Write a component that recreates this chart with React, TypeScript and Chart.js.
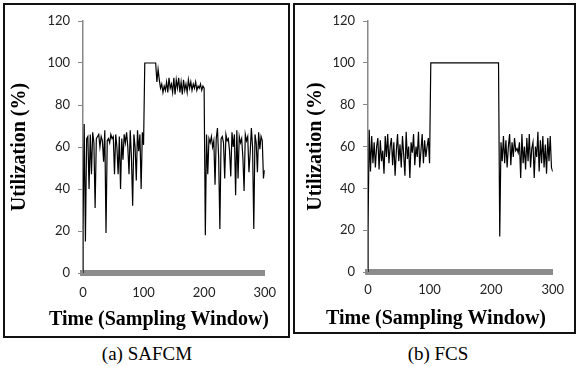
import React, { useEffect, useRef } from "react";
import { Chart, registerables } from "chart.js";

Chart.register(...registerables);

// Sampling window: one value every 2 time units, from 0 to 300
const SAMPLE_STEP = 2;
const X_MIN = 0;
const X_MAX = 300;
const X_STEP = 100;
const Y_MIN = 0;
const Y_MAX = 120;
const Y_STEP = 20;
const START_VALUE = 0; // both traces start from 0 at t = 0

const X_TITLE = "Time (Sampling Window)";
const Y_TITLE = "Utilization (%)";
const CAPTION_A = "(a) SAFCM";
const CAPTION_B = "(b) FCS";

// (a) SAFCM utilization (%), t = 0, 2, 4, ... 300
const safcmUtilization = [
  20, 71, 15, 64, 65, 40, 66, 47, 67, 62, 31, 64, 65, 66, 60, 65, 63, 53, 68, 19,
  63, 64, 62, 66, 64, 65, 47, 66, 60, 47, 65, 40, 64, 54, 66, 62, 67, 60, 47, 68,
  55, 32, 66, 60, 44, 68, 58, 66, 40, 67, 61,
  100, 100, 100, 100, 100, 100, 100, 100, 100, 100,
  91, 97, 92, 88, 90, 86, 89, 87, 91, 86, 93, 88, 90, 86, 93, 85, 92, 88, 93, 86,
  91, 85, 92, 87, 90, 86, 92, 88, 91, 87, 90, 88, 91, 87, 89, 88, 90, 87, 89, 88,
  18, 66, 47, 64, 62, 65, 60, 63, 42, 64, 69, 55, 21, 64, 65, 62, 45, 66, 63, 64,
  58, 46, 67, 60, 66, 37, 68, 45, 65, 62, 64, 55, 39, 66, 63, 65, 48, 57, 69, 60,
  21, 66, 62, 48, 67, 59, 65, 63, 45, 49,
];

// (b) FCS utilization (%), t = 0, 2, 4, ... 300
const fcsUtilization = [
  20, 68, 48, 65, 52, 62, 50, 60, 64, 49, 63, 53, 58, 47, 65, 55, 66, 52, 60, 64,
  51, 62, 46, 58, 66, 53, 61, 50, 65, 56, 46, 67, 54, 60, 45, 62, 57, 66, 51, 60,
  55, 67, 50, 58, 66, 52, 63, 55, 60, 64, 52,
  100, 100, 100, 100, 100, 100, 100, 100, 100, 100,
  100, 100, 100, 100, 100, 100, 100, 100, 100, 100,
  100, 100, 100, 100, 100, 100, 100, 100, 100, 100,
  100, 100, 100, 100, 100, 100, 100, 100, 100, 100,
  100, 100, 100, 100, 100, 100, 100, 100, 100, 100,
  100, 100, 100, 100, 100, 100,
  17, 62, 53, 65, 52, 63, 50, 60, 66, 51, 62, 55, 64, 58, 59, 57, 62, 45, 66, 52,
  60, 49, 64, 53, 66, 50, 59, 62, 45, 60, 55, 67, 48, 63, 52, 65, 50, 61, 47, 64,
  53, 65, 50, 48,
];

type Geom = {
  canvasW: number;
  canvasH: number;
  yAxisW: number;
  xAxisH: number;
  padTop: number;
  padRight: number;
  xTickPad: number;
  yTitlePad: number;
};

const GEOM_A: Geom = {
  canvasW: 283,
  canvasH: 331,
  yAxisW: 78,
  xAxisH: 63,
  padTop: 16,
  padRight: 21,
  xTickPad: 12,
  yTitlePad: 3,
};

const GEOM_B: Geom = {
  canvasW: 279,
  canvasH: 327,
  yAxisW: 73,
  xAxisH: 60,
  padTop: 16,
  padRight: 16,
  xTickPad: 10,
  yTitlePad: 9,
};

function toPoints(values: number[]) {
  return [
    { x: X_MIN, y: START_VALUE },
    ...values.map((v, i) => ({ x: X_MIN + i * SAMPLE_STEP, y: v })),
  ];
}

const TICK_FONT = { family: "Lato, 'Open Sans', sans-serif", size: 13 };
const SERIF = "'Liberation Serif', 'Times New Roman', serif";

function makeChart(canvas: HTMLCanvasElement, values: number[], g: Geom) {
  return new Chart(canvas, {
    type: "line",
    data: {
      datasets: [
        {
          data: toPoints(values),
          borderColor: "#000",
          borderWidth: 1.2,
          pointRadius: 0,
          tension: 0,
          fill: false,
        },
      ],
    },
    options: {
      animation: false,
      responsive: false,
      maintainAspectRatio: false,
      layout: { padding: { left: 0, right: g.padRight, top: g.padTop, bottom: 0 } },
      plugins: { legend: { display: false }, tooltip: { enabled: false } },
      scales: {
        x: {
          type: "linear",
          min: X_MIN,
          max: X_MAX,
          ticks: { stepSize: X_STEP, padding: g.xTickPad, font: TICK_FONT, color: "#222" },
          grid: { display: true, drawOnChartArea: false, drawTicks: false },
          border: { display: true, color: "#8c8c8c", width: 6 },
          afterFit: (s: any) => {
            s.height = g.xAxisH;
          },
        },
        y: {
          min: Y_MIN,
          max: Y_MAX,
          ticks: { stepSize: Y_STEP, padding: 8, font: TICK_FONT, color: "#222" },
          grid: {
            display: true,
            drawOnChartArea: false,
            drawTicks: true,
            tickLength: 5,
            color: "#888",
            lineWidth: 1,
          },
          border: { display: true, color: "#888", width: 1.5 },
          title: {
            display: true,
            text: Y_TITLE,
            color: "#000",
            font: { family: SERIF, size: 20, weight: "bold" },
            padding: { top: g.yTitlePad, bottom: 0 },
          },
          afterFit: (s: any) => {
            s.width = g.yAxisW;
          },
        },
      },
    },
  } as any);
}

const titleStyle = (cx: number, cy: number): React.CSSProperties => ({
  position: "absolute",
  left: cx - 150,
  top: cy - 12,
  width: 300,
  height: 24,
  lineHeight: "24px",
  textAlign: "center",
  fontFamily: SERIF,
  fontWeight: "bold",
  fontSize: 20,
  color: "#000",
  whiteSpace: "nowrap",
});

const captionStyle = (cx: number, cy: number): React.CSSProperties => ({
  position: "absolute",
  left: cx - 100,
  top: cy - 11,
  width: 200,
  height: 22,
  lineHeight: "22px",
  textAlign: "center",
  fontFamily: SERIF,
  fontSize: 19,
  color: "#000",
  whiteSpace: "nowrap",
});

export default function App() {
  const refA = useRef<HTMLCanvasElement>(null);
  const refB = useRef<HTMLCanvasElement>(null);

  useEffect(() => {
    const a = makeChart(refA.current!, safcmUtilization, GEOM_A);
    const b = makeChart(refB.current!, fcsUtilization, GEOM_B);
    return () => {
      a.destroy();
      b.destroy();
    };
  }, []);

  return (
    <div
      style={{
        position: "fixed",
        left: 0,
        top: 0,
        width: 579,
        height: 366,
        background: "#fff",
        overflow: "hidden",
      }}
    >
      <div
        style={{
          position: "absolute",
          left: 3,
          top: 3,
          width: GEOM_A.canvasW,
          height: GEOM_A.canvasH,
          border: "2px solid #111",
        }}
      >
        <canvas
          ref={refA}
          width={GEOM_A.canvasW}
          height={GEOM_A.canvasH}
          style={{ display: "block", width: GEOM_A.canvasW, height: GEOM_A.canvasH }}
        />
      </div>
      <div
        style={{
          position: "absolute",
          left: 293,
          top: 3,
          width: GEOM_B.canvasW,
          height: GEOM_B.canvasH,
          border: "2px solid #111",
        }}
      >
        <canvas
          ref={refB}
          width={GEOM_B.canvasW}
          height={GEOM_B.canvasH}
          style={{ display: "block", width: GEOM_B.canvasW, height: GEOM_B.canvasH }}
        />
      </div>
      <div style={titleStyle(159, 318)}>{X_TITLE}</div>
      <div style={titleStyle(436, 317)}>{X_TITLE}</div>
      <div style={captionStyle(147, 354)}>{CAPTION_A}</div>
      <div style={captionStyle(438, 354)}>{CAPTION_B}</div>
    </div>
  );
}
